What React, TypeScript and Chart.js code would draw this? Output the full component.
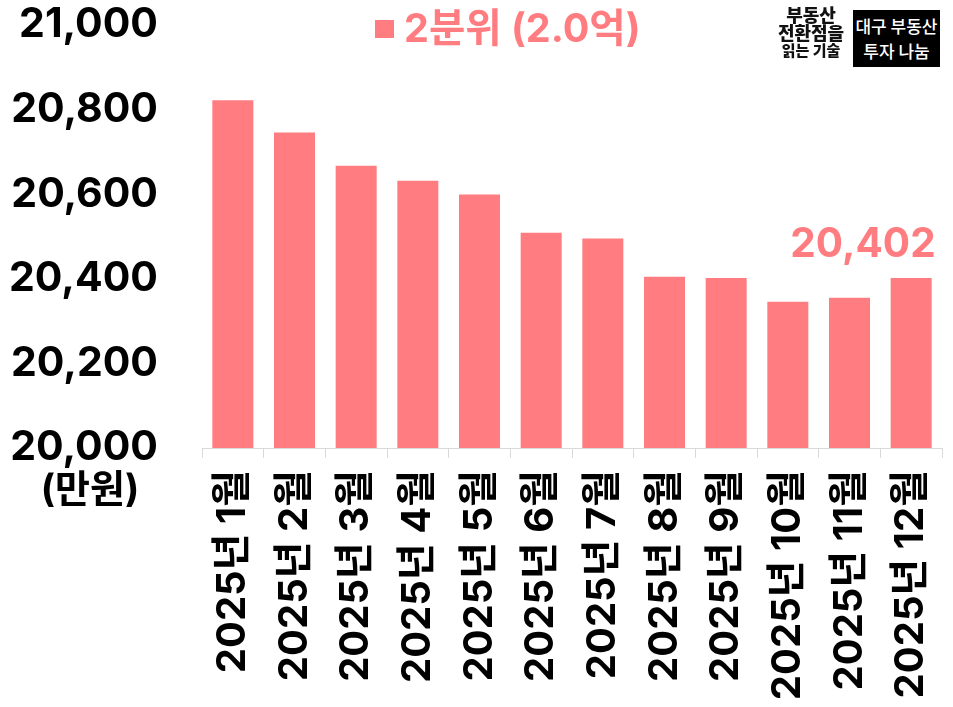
import React, { useEffect, useRef } from "react";
import { Chart, registerables } from "chart.js";

Chart.register(...registerables);

const categories = [
  "2025년 1월",
  "2025년 2월",
  "2025년 3월",
  "2025년 4월",
  "2025년 5월",
  "2025년 6월",
  "2025년 7월",
  "2025년 8월",
  "2025년 9월",
  "2025년 10월",
  "2025년 11월",
  "2025년 12월",
];
const values = [20822, 20746, 20667, 20632, 20599, 20509, 20495, 20405, 20402, 20346, 20355, 20402];
const seriesLabel = "2분위 (2.0억)";
const yMin = 20000;
const yMax = 21000;
const yStep = 200;
const unitLabel = "(만원)";
const labelledIndex = 11;
const barColor = "#FF7C80";
const FONT = 'Inter, "Noto Sans CJK KR", "Noto Sans", sans-serif';
const KFONT = '"Noto Sans CJK KR", "Noto Sans", sans-serif';

const fmt = (v: number) => v.toLocaleString("en-US");

const overlayPlugin = {
  id: "overlay",
  afterDraw(chart: any) {
    const ctx = chart.ctx;
    const ds = chart.data.datasets[0];
    ctx.save();
    // legend
    ctx.fillStyle = ds.backgroundColor;
    ctx.fillRect(375, 20, 19, 18);
    ctx.font = `bold 39.5px ${FONT}`;
    ctx.textAlign = "left";
    ctx.textBaseline = "middle";
    ctx.fillText(ds.label, 404, 30);
    // unit label under y axis
    ctx.fillStyle = "#000";
    ctx.textAlign = "center";
    ctx.font = `bold 38px ${FONT}`;
    ctx.fillText(unitLabel, 90, 491);
    // data label
    const bar = chart.getDatasetMeta(0).data[labelledIndex];
    if (bar) {
      ctx.fillStyle = ds.backgroundColor;
      ctx.textAlign = "right";
      ctx.font = `bold 40.5px ${FONT}`;
      ctx.fillText(fmt(ds.data[labelledIndex]), bar.x + bar.width / 2 + 4, bar.y - 33);
    }
    ctx.restore();
  },
};

export default function App() {
  const ref = useRef<HTMLCanvasElement>(null);
  useEffect(() => {
    if (!ref.current) return;
    const chart = new Chart(ref.current, {
      type: "bar",
      data: {
        labels: categories,
        datasets: [
          {
            label: seriesLabel,
            data: values,
            backgroundColor: barColor,
            barPercentage: 0.665,
            categoryPercentage: 1,
          },
        ],
      },
      options: {
        animation: false,
        responsive: true,
        maintainAspectRatio: false,
        layout: { padding: { top: 25, right: 11, left: 0, bottom: 0 } },
        plugins: { legend: { display: false }, tooltip: { enabled: false } },
        scales: {
          x: {
            grid: {
              display: true,
              drawOnChartArea: false,
              drawTicks: true,
              tickLength: 10,
              color: "#d9d9d9",
              offset: true,
            },
            border: { display: true, color: "#d9d9d9" },
            ticks: {
              autoSkip: false,
              maxRotation: 90,
              minRotation: 90,
              padding: 12,
              color: "#000",
              font: { family: FONT, size: 40, weight: "bold" },
            },
            afterFit(scale: any) {
              scale.height = 259;
              scale.paddingLeft = 0;
              scale.paddingRight = 0;
            },
          },
          y: {
            min: yMin,
            max: yMax,
            grid: { display: false },
            border: { display: false },
            ticks: {
              stepSize: yStep,
              padding: 36,
              color: "#000",
              font: { family: FONT, size: 41, weight: "bold" },
              callback: (v: any) => fmt(Number(v)),
            },
            afterFit(scale: any) {
              scale.width = 202;
              scale.paddingTop = 0;
              scale.paddingBottom = 0;
            },
          },
        },
      },
      plugins: [overlayPlugin],
    });
    return () => chart.destroy();
  }, []);

  return (
    <div style={{ position: "fixed", left: 0, top: 0, width: 953, height: 707, background: "#fff" }}>
      <canvas ref={ref} />
      <div
        style={{
          position: "absolute",
          left: 768,
          top: 5,
          width: 86,
          textAlign: "center",
          fontFamily: KFONT,
          fontWeight: 900,
          color: "#111",
          lineHeight: 1.02,
        }}
      >
        <div style={{ fontSize: 18 }}>부동산</div>
        <div style={{ fontSize: 18 }}>전환점을</div>
        <div style={{ fontSize: 15 }}>읽는 기술</div>
      </div>
      <div
        style={{
          position: "absolute",
          left: 853,
          top: 10,
          width: 87,
          height: 57,
          background: "#000",
          color: "#fff",
          fontFamily: KFONT,
          fontWeight: 500,
          fontSize: 17,
          lineHeight: "25px",
          textAlign: "center",
          paddingTop: 3,
          boxSizing: "border-box",
        }}
      >
        <div>대구 부동산</div>
        <div>투자 나눔</div>
      </div>
    </div>
  );
}
